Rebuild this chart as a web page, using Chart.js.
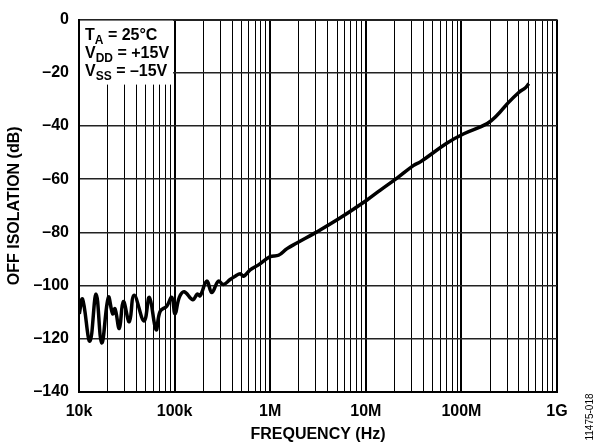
<!DOCTYPE html>
<html>
<head>
<meta charset="utf-8">
<script src="https://cdn.jsdelivr.net/npm/chart.js@4.4.1/dist/chart.umd.min.js"></script>
<style>
  html, body { margin: 0; padding: 0; background: #fff; }
  canvas { display: block; }
</style>
</head>
<body>
<canvas id="isolation-chart" width="598" height="448"></canvas>
<script>
// frequency (Hz) and off isolation (dB)
const frequencyHz = [
  10070, 10900, 13000, 15100, 17300, 20300, 22500, 23800, 26400, 29100,
  33600, 37700, 47900, 54500, 64000, 70500, 82900, 93500, 101000, 112000,
  126000, 155000, 173000, 185000, 217000, 245000, 287000, 324000, 381000, 430000,
  485000, 525000, 617000, 754000, 1.0e6, 1.22e6, 1.5e6, 1.9e6, 3.08e6, 5.41e6,
  10.3e6, 14.2e6, 21.2e6, 31.4e6, 37.2e6, 70.8e6, 106e6, 186e6, 236e6, 301e6,
  398e6, 468e6, 507e6
];
const offIsolationDb = [
  -110.6, -105.1, -120.9, -103.2, -121.6, -104.4, -110.6, -108.7, -116.1, -106.0,
  -113.6, -103.6, -113.3, -104.4, -116.6, -109.7, -107.7, -104.4, -110.6, -104.4,
  -102.3, -105.3, -103.2, -103.8, -98.3, -102.6, -98.3, -99.6, -97.7, -96.5,
  -95.5, -96.5, -94.1, -92.2, -89.1, -88.6, -86.1, -84.0, -79.8, -74.5,
  -67.8, -64.1, -59.6, -54.9, -53.5, -46.4, -42.9, -39.1, -36.0, -31.7,
  -27.4, -25.6, -24.1
];

const xDecades = [1e4, 1e5, 1e6, 1e7, 1e8, 1e9];
const xTickLabels = ['10k', '100k', '1M', '10M', '100M', '1G'];
const yTicks = [0, -20, -40, -60, -80, -100, -120, -140];

const conditions = [
  ['T', 'A', ' = 25°C'],
  ['V', 'DD', ' = +15V'],
  ['V', 'SS', ' = –15V'],
];

const FONT = 'Liberation Sans, Arial, Helvetica, sans-serif';

function isDecade(v) {
  return xDecades.some(d => Math.abs(v / d - 1) < 1e-6);
}

function buildXTicks() {
  const ticks = [];
  for (let i = 0; i < xDecades.length - 1; i++) {
    for (let m = 1; m < 10; m++) {
      ticks.push({ value: xDecades[i] * m });
    }
  }
  ticks.push({ value: xDecades[xDecades.length - 1] });
  return ticks;
}

// white box with test conditions, top-left of the plot
const conditionsBox = {
  id: 'conditionsBox',
  afterDraw(chart) {
    const { ctx, chartArea, scales } = chart;
    const boxRight = scales.x.getPixelForValue(1e5) - 1.5;
    ctx.save();
    ctx.fillStyle = '#fff';
    ctx.fillRect(chartArea.left + 1, chartArea.top + 1, boxRight - chartArea.left - 1, 64);
    ctx.fillStyle = '#000';
    ctx.textBaseline = 'alphabetic';
    let y = chartArea.top + 20;
    conditions.forEach(([main, sub, rest]) => {
      let x = chartArea.left + 6;
      ctx.font = 'bold 16px ' + FONT;
      ctx.fillText(main, x, y);
      x += ctx.measureText(main).width;
      ctx.font = 'bold 12px ' + FONT;
      ctx.fillText(sub, x, y + 4);
      x += ctx.measureText(sub).width;
      ctx.font = 'bold 16px ' + FONT;
      ctx.fillText(rest, x, y);
      y += 18.4;
    });
    // figure number on the right edge
    ctx.font = '10px ' + FONT;
    ctx.translate(590, 417);
    ctx.rotate(-Math.PI / 2);
    ctx.textAlign = 'center';
    ctx.textBaseline = 'middle';
    ctx.fillText('11475-018', 0, 0);
    ctx.restore();
  }
};

const ctx = document.getElementById('isolation-chart').getContext('2d');

new Chart(ctx, {
  type: 'line',
  data: {
    datasets: [{
      data: frequencyHz.map((f, i) => ({ x: f, y: offIsolationDb[i] })),
      borderColor: '#000',
      borderWidth: 3.5,
      pointRadius: 0,
      tension: 0.4,
      fill: false,
    }],
  },
  options: {
    responsive: false,
    animation: false,
    layout: { padding: { left: 0, right: 41, top: 10, bottom: 0 } },
    plugins: {
      legend: { display: false },
      tooltip: { enabled: false },
    },
    scales: {
      x: {
        type: 'logarithmic',
        min: 1e4,
        max: 1e9,
        afterBuildTicks: (scale) => { scale.ticks = buildXTicks(); },
        afterFit: (scale) => { scale.height = 56; },
        grid: {
          color: '#000',
          drawTicks: false,
          lineWidth: (c) => (c.tick && isDecade(c.tick.value) ? 2 : 1),
        },
        border: { color: '#000', width: 2 },
        ticks: {
          autoSkip: false,
          maxRotation: 0,
          padding: 10,
          color: '#000',
          font: { family: FONT, size: 16, weight: 'bold' },
          callback: (v) => {
            const i = xDecades.findIndex(d => Math.abs(v / d - 1) < 1e-6);
            return i >= 0 ? xTickLabels[i] : '';
          },
        },
        title: {
          display: true,
          text: 'FREQUENCY (Hz)',
          color: '#000',
          font: { family: FONT, size: 16, weight: 'bold' },
          padding: { top: 0, bottom: 4 },
        },
      },
      y: {
        min: -140,
        max: 0,
        afterBuildTicks: (scale) => { scale.ticks = yTicks.map(v => ({ value: v })); },
        afterFit: (scale) => { scale.width = 79; },
        grid: {
          color: '#222',
          drawTicks: false,
          lineWidth: (c) => (c.tick && (c.tick.value === 0 || c.tick.value === -140) ? 2 : 1.5),
        },
        border: { color: '#000', width: 2 },
        ticks: {
          padding: 10,
          color: '#000',
          font: { family: FONT, size: 16, weight: 'bold' },
          callback: (v) => (v === 0 ? '0' : '–' + Math.abs(v)),
        },
        title: {
          display: true,
          text: 'OFF ISOLATION (dB)',
          color: '#000',
          font: { family: FONT, size: 16, weight: 'bold' },
          padding: { top: 5, bottom: 0 },
        },
      },
    },
  },
  plugins: [conditionsBox],
});
</script>
</body>
</html>
